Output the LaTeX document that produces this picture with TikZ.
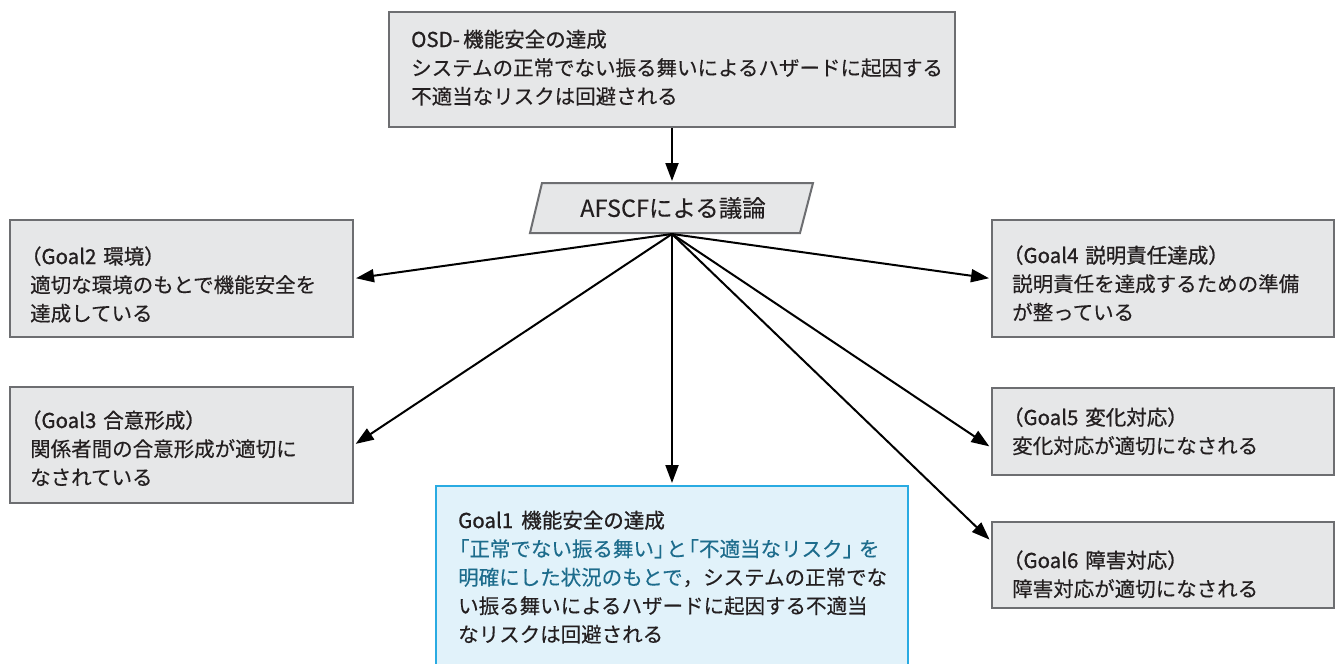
\documentclass[tikz,border=0pt]{standalone}
\usepackage{fontspec}
\setmainfont[FakeBold=0.25]{Noto Sans CJK JP}
\newfontfamily\titlefont[FakeBold=0.9]{Noto Sans CJK JP}
\usetikzlibrary{arrows.meta,calc}
\definecolor{boxfill}{HTML}{E6E7E8}
\definecolor{boxdraw}{HTML}{6D6E71}
\definecolor{textc}{HTML}{231F20}
\definecolor{bluefill}{HTML}{E1F2FA}
\definecolor{bluedraw}{HTML}{29ABE2}
\definecolor{bluetext}{HTML}{1D6C8C}
\begin{document}
\begin{tikzpicture}[x=1pt,y=-1pt,
  gbox/.style={draw=boxdraw, fill=boxfill, line width=2pt, rectangle, inner sep=0pt},
  bbox/.style={draw=bluedraw, fill=bluefill, line width=2pt, rectangle, inner sep=0pt},
  txt/.style={anchor=base west, inner sep=0pt, align=left, text width=520pt,
    font=\fontsize{20.5}{28.5}\selectfont, text=textc},
  arr/.style={-{Triangle[length=18pt,width=13pt]}, line width=2pt, shorten >=2pt}
]
\clip (0,0) rectangle (1339,664);
\fill[white] (0,0) rectangle (1339,664);

% boxes
\node[gbox, minimum width=566pt, minimum height=115pt] (top) at (672,69.5) {};
\node[gbox, minimum width=343pt, minimum height=117pt] (g2) at (181.5,278.5) {};
\node[gbox, minimum width=343pt, minimum height=116pt] (g3) at (181.5,445) {};
\node[gbox, minimum width=342pt, minimum height=117pt] (g4) at (1163,278.5) {};
\node[gbox, minimum width=342pt, minimum height=87pt] (g5) at (1163,431.5) {};
\node[gbox, minimum width=342pt, minimum height=86pt] (g6) at (1163,565) {};
\node[bbox, minimum width=472pt, minimum height=204pt] (g1) at (672,588) {};

% parallelogram
\coordinate (pbl) at (530,233);
\coordinate (ptl) at (542,183);
\coordinate (ptr) at (813,183);
\coordinate (pbr) at (800,233);
\draw[draw=boxdraw, fill=boxfill, line width=2pt] (pbl) -- (ptl) -- (ptr) -- (pbr) -- cycle;
\node[font=\fontsize{23.5}{26}\selectfont, text=textc, inner sep=0pt] (afscf) at (673,208) {AFSCFによる議論};
\coordinate (afscftop) at (672,183);
\coordinate (hub) at (672,234);

% texts
\node[txt] (toptxt) at (411,47) {{\titlefont OSD-\,機能安全の達成}\\
システムの正常でない振る舞いによるハザードに起因する\\
不適当なリスクは回避される};
\node[txt] (g2txt) at (30,264) {{\titlefont\hspace*{-0.45em}（Goal2 環境）}\\
適切な環境のもとで機能安全を\\
達成している};
\node[txt] (g3txt) at (30,428) {{\titlefont\hspace*{-0.45em}（Goal3 合意形成）}\\
関係者間の合意形成が適切に\\
なされている};
\node[txt] (g4txt) at (1012,263) {{\titlefont\hspace*{-0.45em}（Goal4 説明責任達成）}\\
説明責任を達成するための準備\\
が整っている};
\node[txt] (g5txt) at (1012,425) {{\titlefont\hspace*{-0.45em}（Goal5 変化対応）}\\
変化対応が適切になされる};
\node[txt] (g6txt) at (1012,568) {{\titlefont\hspace*{-0.45em}（Goal6 障害対応）}\\
障害対応が適切になされる};
\node[txt] (g1txt) at (458,528) {{\titlefont Goal1\hspace{0.4em}機能安全の達成}\\
\textcolor{bluetext}{\hspace*{-0.45em}「正常でない振る舞い」\hspace{-0.4em}と\hspace{-0.4em}「不適当なリスク」\hspace{-0.2em}を}\\
\textcolor{bluetext}{明確にした状況のもとで}，システムの正常でな\\
い振る舞いによるハザードに起因する不適当\\
なリスクは回避される};

% connectors
\draw[arr] (top.south) -- (afscftop);
\draw[arr] (hub) -- (g2.east);
\draw[arr] (hub) -- (g3.east);
\draw[arr] (hub) -- (g1.north);
\draw[arr] (hub) -- (g4.west);
\draw[arr] (hub) -- ($(g5.west)+(0,16)$);
\draw[arr] (hub) -- ($(g6.north west)+(0,20)$);
\end{tikzpicture}
\end{document}
